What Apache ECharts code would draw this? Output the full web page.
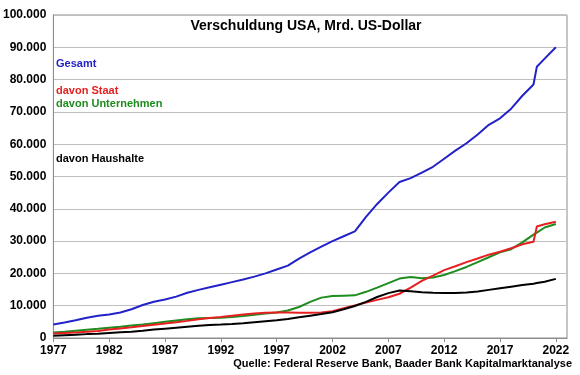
<!DOCTYPE html>
<html><head><meta charset="utf-8">
<script src="https://cdn.jsdelivr.net/npm/echarts@6/dist/echarts.min.js"></script>
<style>html,body{margin:0;padding:0;background:#fff}#c{width:580px;height:375px}</style>
</head><body><div id="c"></div>
<script>
const title = "Verschuldung USA, Mrd. US-Dollar";
const source = "Quelle: Federal Reserve Bank, Baader Bank Kapitalmarktanalyse";
const seriesNames = ["Gesamt", "davon Staat", "davon Unternehmen", "davon Haushalte"];
const xTickLabels = [1977, 1982, 1987, 1992, 1997, 2002, 2007, 2012, 2017, 2022];
const years = [1977,1978,1979,1980,1981,1982,1983,1984,1985,1986,1987,1988,1989,1990,1991,1992,1993,1994,1995,1996,1997,1998,1999,2000,2001,2002,2003,2004,2005,2006,2007,2008,2009,2010,2011,2012,2013,2014,2015,2016,2017,2018,2019,2020,2020.3,2021,2022];
const gesamt = [4200,4800,5500,6300,6900,7300,7900,8900,10200,11200,11900,12800,14000,14900,15700,16500,17300,18100,19000,20000,21200,22400,24600,26500,28300,30000,31500,33000,37500,41500,45000,48300,49500,51200,53000,55500,58000,60300,63000,66000,68000,71000,75000,78500,84000,86500,90000];
const staat = [1400,1550,1700,1900,2150,2600,2950,3300,3700,4100,4500,4900,5300,5800,6200,6500,6900,7250,7550,7800,7900,7900,7800,7800,7900,8300,9200,10100,11000,11800,12600,13700,15600,17700,19300,21000,22200,23500,24600,25800,26700,27800,29000,29800,34500,35200,36000];
const unternehmen = [1700,1950,2250,2550,2850,3200,3500,3850,4200,4600,5000,5400,5800,6100,6200,6300,6500,6800,7200,7600,7900,8500,9600,11200,12500,13000,13100,13200,14300,15600,17000,18400,18900,18500,18700,19500,20700,22000,23500,25000,26500,27500,29600,32000,32600,34200,35300];
const haushalte = [700,850,1000,1200,1350,1550,1750,1950,2250,2600,2900,3200,3500,3800,4000,4150,4350,4600,4900,5200,5500,5900,6400,6900,7400,8000,8900,9900,11200,12700,13900,14700,14500,14200,14000,13900,13900,14100,14400,14900,15400,15900,16400,16800,17000,17400,18300];
const colors = ["#2222c8", "#e62020", "#1e8c1e", "#000000"];

const pairs = arr => years.map((y, i) => [y, arr[i]]);
const fmt = v => String(v).replace(/\B(?=(\d{3})+(?!\d))/g, ".");
const font = "'Liberation Sans', Arial, sans-serif";

const chart = echarts.init(document.getElementById('c'), null, {renderer: 'canvas'});
chart.setOption({
  animation: false,
  backgroundColor: '#fff',
  grid: {left: 50, right: 13, top: 15, bottom: 37, show: true, borderColor: '#8c8c8c', borderWidth: 1},
  title: {text: title, left: 301, top: 14, textAlign: 'center',
    textStyle: {fontFamily: font, fontSize: 14, fontWeight: 'bold', color: '#000'}},
  xAxis: {type: 'value', min: 1977, max: 2023,
    axisLine: {show: true, lineStyle: {color: '#8c8c8c'}},
    axisTick: {show: true, length: 4, lineStyle: {color: '#8c8c8c'}, customValues: xTickLabels},
    axisLabel: {customValues: xTickLabels, formatter: v => String(v), fontFamily: font, fontSize: 12, fontWeight: 'bold', color: '#000', margin: 7},
    splitLine: {show: false}},
  yAxis: {type: 'value', min: 0, max: 100000, interval: 10000,
    axisLine: {show: true, lineStyle: {color: '#8c8c8c'}},
    axisTick: {show: false},
    axisLabel: {formatter: v => fmt(v), fontFamily: font, fontSize: 12, fontWeight: 'bold', color: '#000', margin: 7},
    splitLine: {show: true, lineStyle: {color: '#bfbfbf', width: 1}}},
  series: [
    {name: seriesNames[0], type: 'line', data: pairs(gesamt), showSymbol: false, lineStyle: {color: colors[0], width: 2}, itemStyle: {color: colors[0]}, z: 5},
    {name: seriesNames[2], type: 'line', data: pairs(unternehmen), showSymbol: false, lineStyle: {color: colors[2], width: 2}, itemStyle: {color: colors[2]}, z: 3},
    {name: seriesNames[1], type: 'line', data: pairs(staat), showSymbol: false, lineStyle: {color: colors[1], width: 2}, itemStyle: {color: colors[1]}, z: 4},
    {name: seriesNames[3], type: 'line', data: pairs(haushalte), showSymbol: false, lineStyle: {color: colors[3], width: 2}, itemStyle: {color: colors[3]}, z: 6}
  ],
  graphic: [
    {type: 'text', left: 56, top: 58, style: {text: seriesNames[0], fill: colors[0], font: "bold 11px " + font}},
    {type: 'text', left: 56, top: 85, style: {text: seriesNames[1], fill: colors[1], font: "bold 11px " + font}},
    {type: 'text', left: 56, top: 98, style: {text: seriesNames[2], fill: colors[2], font: "bold 11px " + font}},
    {type: 'text', left: 56, top: 153, style: {text: seriesNames[3], fill: colors[3], font: "bold 11px " + font}},
    {type: 'text', right: 8, top: 358, style: {text: source, fill: '#000', font: "bold 11px " + font}}
  ]
});
</script></body></html>
